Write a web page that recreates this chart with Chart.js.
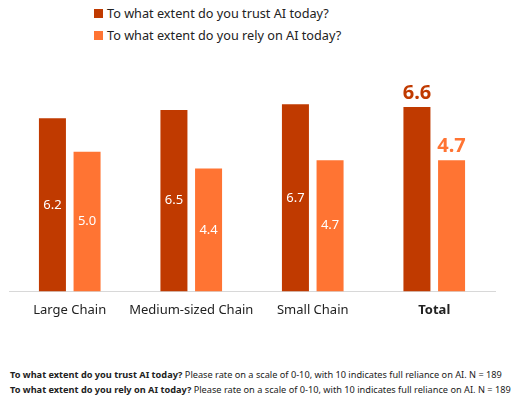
<!DOCTYPE html>
<html>
<head>
<meta charset="utf-8">
<script src="https://cdn.jsdelivr.net/npm/chart.js@4"></script>
<style>
  body { margin: 0; background: #fff; font-family: "Noto Sans", sans-serif; color: #222; }
  #wrap { position: relative; width: 532px; height: 398px; }
  #chartBox { position: absolute; left: 0; top: 0; width: 532px; height: 330px; }
  .leg { position: absolute; left: 94px; font-size: 12.7px; line-height: 16px; }
  .leg span { display: inline-block; width: 9px; height: 9px; margin-right: 4px; }
  #foot { position: absolute; left: 10px; top: 367px; font-size: 9.2px; line-height: 15px; white-space: nowrap; }
</style>
</head>
<body>
<div id="wrap">
  <div class="leg" style="top:5px"><span style="background:#C03A00"></span>To what extent do you trust AI today?</div>
  <div class="leg" style="top:27px"><span style="background:#FF7433"></span>To what extent do you rely on AI today?</div>
  <div id="chartBox"><canvas id="myChart"></canvas></div>
  <div id="foot">
    <div><b>To what extent do you trust AI today?</b> Please rate on a scale of 0-10, with 10 indicates full reliance on AI. N = 189</div>
    <div><b>To what extent do you rely on AI today?</b> Please rate on a scale of 0-10, with 10 indicates full reliance on AI. N = 189</div>
  </div>
</div>
<script>
// categories along the x-axis
var groups = ["Large Chain", "Medium-sized Chain", "Small Chain", "Total"];

var trust = [6.2, 6.5, 6.7, 6.6];
var rely = [5.0, 4.4, 4.7, 4.7];

var trustColor = "#C03A00";
var relyColor = "#FF7433";

// values inside bars, except Total which sits on top in bold
var barLabels = {
  id: "barLabels",
  afterDatasetsDraw: function(chart) {
    var c = chart.ctx;
    c.save();
    c.textAlign = "center";
    chart.data.datasets.forEach(function(ds, di) {
      chart.getDatasetMeta(di).data.forEach(function(bar, i) {
        var txt = ds.data[i].toFixed(1);
        if (i == groups.length - 1) {
          c.font = "bold 20px 'Noto Sans', sans-serif";
          c.fillStyle = ds.backgroundColor;
          c.textBaseline = "bottom";
          c.fillText(txt, bar.x, bar.y - 4);
        } else {
          c.font = "13px 'Noto Sans', sans-serif";
          c.fillStyle = "#fff";
          c.textBaseline = "middle";
          c.fillText(txt, bar.x, (bar.y + bar.base) / 2);
        }
      });
    });
    c.restore();
  }
};

var ctx = document.getElementById("myChart");

var myChart = new Chart(ctx, {
  type: "bar",
  data: {
    labels: groups,
    datasets: [
      { label: "To what extent do you trust AI today?", data: trust, backgroundColor: trustColor },
      { label: "To what extent do you rely on AI today?", data: rely, backgroundColor: relyColor }
    ]
  },
  options: {
    responsive: true,
    maintainAspectRatio: false,
    animation: false,
    categoryPercentage: 0.57,
    barPercentage: 0.78,
    layout: { padding: { top: 68, left: 9, right: 37, bottom: 1 } },
    plugins: {
      legend: { display: false },
      tooltip: { enabled: false }
    },
    scales: {
      x: {
        grid: { display: false, drawTicks: false },
        border: { display: true, color: "#d8d8d8" },
        ticks: {
          padding: 11,
          maxRotation: 0,
          minRotation: 0,
          autoSkip: false,
          color: "#222",
          font: function(c) {
            return c.index == groups.length - 1
              ? { size: 13, weight: "bold", family: "'Noto Sans', sans-serif" }
              : { size: 13, family: "'Noto Sans', sans-serif" };
          }
        }
      },
      y: { display: false, min: 0, max: 8 }
    }
  },
  plugins: [barLabels]
});
</script>
</body>
</html>
